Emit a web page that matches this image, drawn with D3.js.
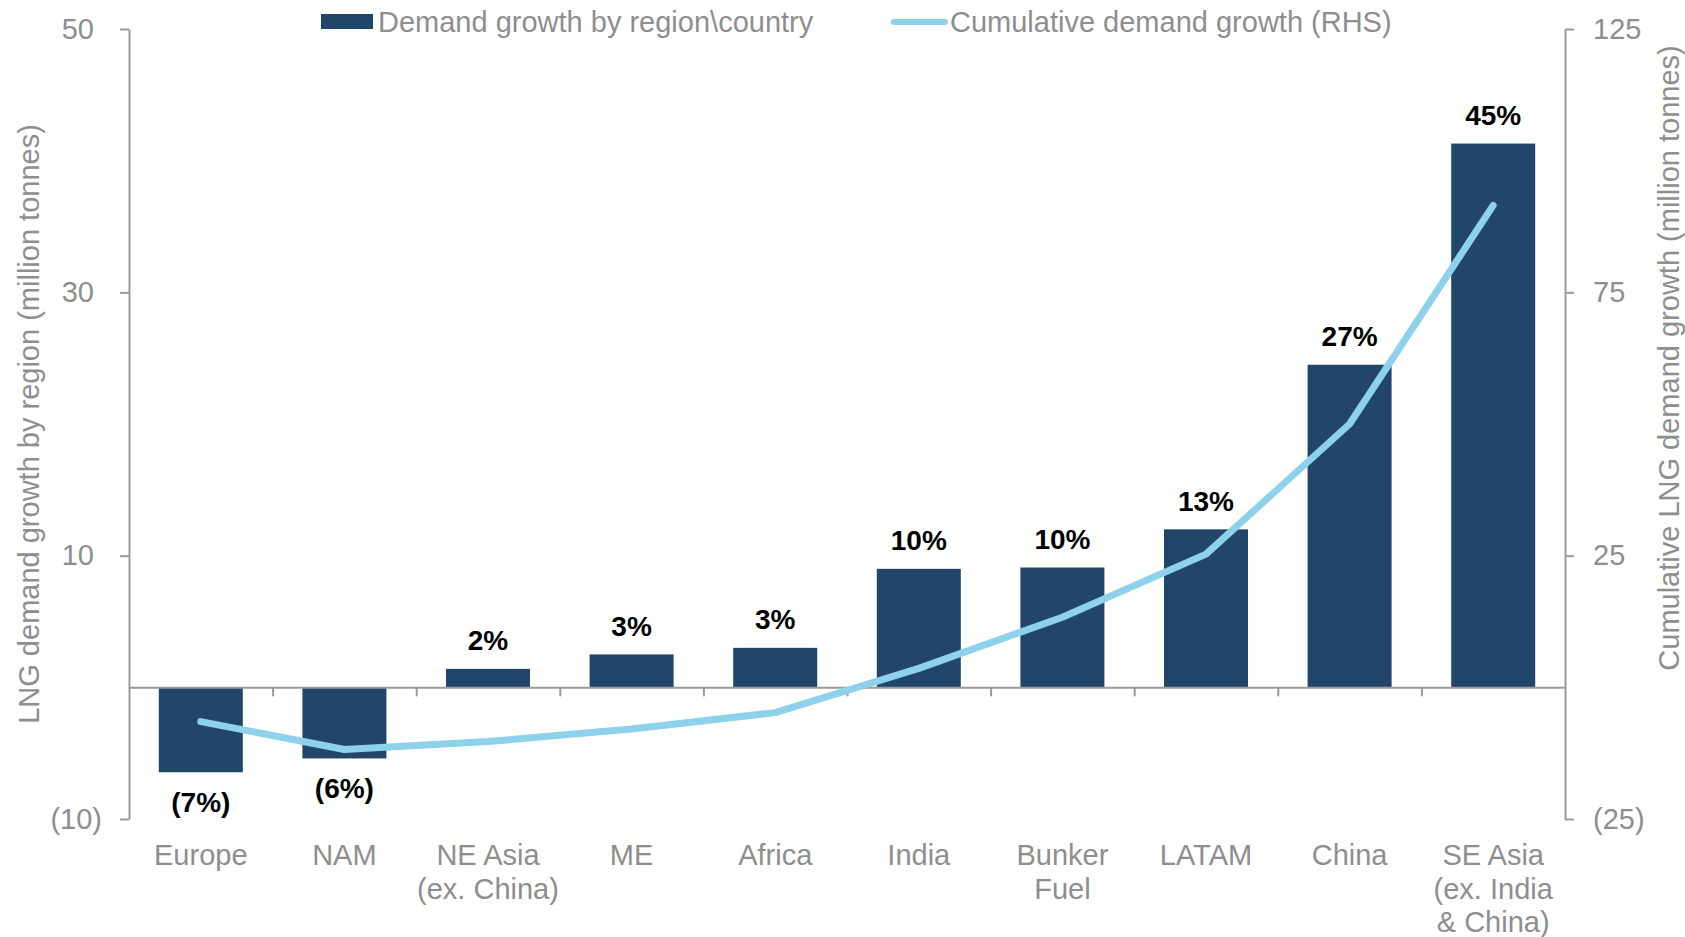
<!DOCTYPE html>
<html>
<head>
<meta charset="utf-8">
<script src="https://cdn.jsdelivr.net/npm/d3@7"></script>
<style>
  html, body { margin: 0; padding: 0; background: #fff; }
  svg { display: block; font-family: "Liberation Sans", Arial, sans-serif; }
</style>
</head>
<body>
<svg id="chart" width="1685" height="937"></svg>
<script>
// ---- Data ----
const categories = ["Europe", "NAM", "NE Asia\n(ex. China)", "ME", "Africa", "India", "Bunker\nFuel", "LATAM", "China", "SE Asia\n(ex. India\n& China)"];
const demandGrowth = [-6.45, -5.4, 1.4, 2.5, 3.0, 9.0, 9.1, 12.0, 24.5, 41.3];
const cumulativeGrowth = [-6.5, -11.8, -10.3, -7.9, -4.8, 3.6, 13.3, 25.3, 50.0, 91.5];
const shareLabels = ["(7%)", "(6%)", "2%", "3%", "3%", "10%", "10%", "13%", "27%", "45%"];
const leftTicks = [-10, 10, 30, 50];
const rightTicks = [-25, 25, 75, 125];
const seriesNames = ["Demand growth by region\\country", "Cumulative demand growth (RHS)"];
const leftTitle = "LNG demand growth by region (million tonnes)";
const rightTitle = "Cumulative LNG demand growth (million tonnes)";

// ---- Layout ----
const plot = { left: 129, right: 1565, top: 29, bottom: 819 };
const barColor = "#21466A";
const lineColor = "#8DD1EA";
const axisColor = "#9B9B9B";
const textColor = "#8E8E8E";
const fontSize = 29;

const svg = d3.select("#chart");

const x = d3.scaleBand().domain(categories).range([plot.left, plot.right])
  .paddingInner(0.415).paddingOuter(0.2075);
const yL = d3.scaleLinear().domain([-10, 50]).range([plot.bottom, plot.top]);
const yR = d3.scaleLinear().domain([-25, 125]).range([plot.bottom, plot.top]);
const fmt = v => v < 0 ? "(" + Math.abs(v) + ")" : String(v);

// Bars
svg.append("g").selectAll("rect").data(categories).join("rect")
  .attr("x", d => x(d))
  .attr("width", x.bandwidth())
  .attr("y", (d, i) => yL(Math.max(0, demandGrowth[i])))
  .attr("height", (d, i) => Math.abs(yL(demandGrowth[i]) - yL(0)))
  .attr("fill", barColor);

// Baseline axis with ticks between categories
const xIdx = d3.scaleLinear().domain([0, categories.length]).range([plot.left, plot.right]);
const gBase = svg.append("g").attr("transform", `translate(0,${yL(0)})`)
  .call(d3.axisBottom(xIdx).tickValues(d3.range(1, categories.length)).tickFormat("").tickSize(9).tickSizeOuter(0));
gBase.select(".domain").attr("stroke", axisColor).attr("stroke-width", 2);
gBase.selectAll(".tick line").attr("stroke", axisColor).attr("stroke-width", 2);

// Left axis
const gL = svg.append("g").attr("transform", `translate(${plot.left},0)`)
  .call(d3.axisLeft(yL).tickValues(leftTicks).tickFormat(fmt).tickSize(9).tickSizeOuter(0).tickPadding(0));
gL.select(".domain").attr("stroke", axisColor).attr("stroke-width", 2);
gL.selectAll(".tick line").attr("stroke", axisColor).attr("stroke-width", 2);
gL.selectAll(".tick text")
  .attr("x", d => d < 0 ? -27 : -35)
  .attr("fill", textColor).attr("font-size", fontSize).attr("font-family", "Liberation Sans, Arial, sans-serif");

// Right axis
const gR = svg.append("g").attr("transform", `translate(${plot.right},0)`)
  .call(d3.axisRight(yR).tickValues(rightTicks).tickFormat(fmt).tickSize(9).tickSizeOuter(0).tickPadding(0));
gR.select(".domain").attr("stroke", axisColor).attr("stroke-width", 2);
gR.selectAll(".tick line").attr("stroke", axisColor).attr("stroke-width", 2);
gR.selectAll(".tick text")
  .attr("x", 28)
  .attr("fill", textColor).attr("font-size", fontSize).attr("font-family", "Liberation Sans, Arial, sans-serif");

// Cumulative line
const line = d3.line()
  .x((d, i) => x(categories[i]) + x.bandwidth() / 2)
  .y(d => yR(d));
svg.append("path").datum(cumulativeGrowth)
  .attr("d", line)
  .attr("fill", "none")
  .attr("stroke", lineColor)
  .attr("stroke-width", 7)
  .attr("stroke-linecap", "round")
  .attr("stroke-linejoin", "round");

// Data labels
svg.append("g").selectAll("text").data(categories).join("text")
  .attr("x", d => x(d) + x.bandwidth() / 2)
  .attr("y", (d, i) => demandGrowth[i] >= 0 ? yL(demandGrowth[i]) - 28 : yL(demandGrowth[i]) + 30)
  .attr("text-anchor", "middle")
  .attr("dominant-baseline", "central")
  .attr("font-weight", "bold")
  .attr("font-size", 28)
  .attr("fill", "#000")
  .text((d, i) => shareLabels[i]);

// Category labels
const catG = svg.append("g");
categories.forEach(c => {
  const t = catG.append("text")
    .attr("x", x(c) + x.bandwidth() / 2)
    .attr("y", 855)
    .attr("text-anchor", "middle")
    .attr("dominant-baseline", "central")
    .attr("font-size", fontSize)
    .attr("fill", textColor);
  c.split("\n").forEach((s, j) => {
    t.append("tspan").attr("x", x(c) + x.bandwidth() / 2).attr("dy", j === 0 ? 0 : 33.5).text(s);
  });
});

// Axis titles
svg.append("text")
  .attr("transform", `translate(29,${(plot.top + plot.bottom) / 2}) rotate(-90)`)
  .attr("text-anchor", "middle").attr("dominant-baseline", "central")
  .attr("font-size", fontSize).attr("fill", textColor)
  .text(leftTitle);
svg.append("text")
  .attr("transform", `translate(1669,358) rotate(-90)`)
  .attr("text-anchor", "middle").attr("dominant-baseline", "central")
  .attr("font-size", fontSize).attr("fill", textColor)
  .text(rightTitle);

// Legend
const lg = svg.append("g");
lg.append("rect").attr("x", 321).attr("y", 14).attr("width", 52).attr("height", 15).attr("fill", barColor);
lg.append("text").attr("x", 378).attr("y", 22).attr("dominant-baseline", "central")
  .attr("font-size", fontSize).attr("fill", textColor).text(seriesNames[0]);
lg.append("line").attr("x1", 894).attr("x2", 945).attr("y1", 22).attr("y2", 22)
  .attr("stroke", lineColor).attr("stroke-width", 6).attr("stroke-linecap", "round");
lg.append("text").attr("x", 950).attr("y", 22).attr("dominant-baseline", "central")
  .attr("font-size", fontSize).attr("fill", textColor).text(seriesNames[1]);
</script>
</body>
</html>
